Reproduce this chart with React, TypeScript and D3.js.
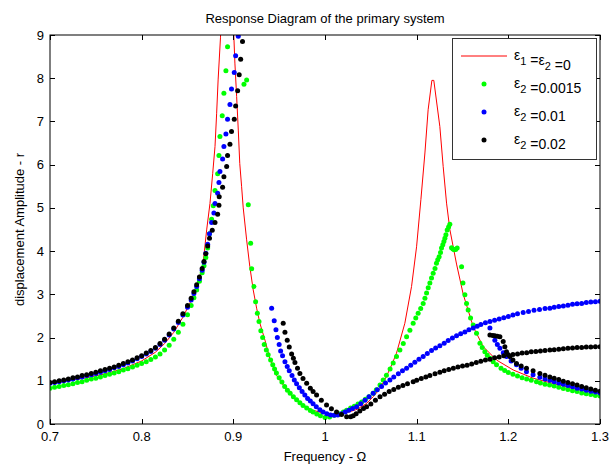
import React, { useEffect, useRef } from 'react';
import * as d3 from 'd3';

type Pt = [number, number];

const xTicks = [0.7, 0.8, 0.9, 1, 1.1, 1.2, 1.3];
const yTicks = [0, 1, 2, 3, 4, 5, 6, 7, 8, 9];

// eps1 = eps2 = 0 (drawn as a line); the first peak runs off the top
const undamped: Pt[] = [
  [0.70, 0.93], [0.72, 1.0], [0.74, 1.07], [0.76, 1.16], [0.78, 1.28], [0.80, 1.46], [0.815, 1.66],
  [0.825, 1.86], [0.835, 2.12], [0.845, 2.47], [0.855, 2.9], [0.862, 3.3], [0.867, 3.72], [0.8709, 4.49],
  [0.8745, 5.1], [0.8775, 5.8], [0.880, 6.42], [0.8818, 7.19], [0.8834, 7.96], [0.886, 8.95], [0.8935, 14],
  [0.9006, 8.95], [0.9017, 8.35], [0.9036, 7.58], [0.9054, 6.8], [0.907, 6.03], [0.909, 5.5], [0.9108, 5.0],
  [0.9145, 4.26], [0.918, 3.64], [0.9217, 3.1], [0.9254, 2.68], [0.929, 2.33], [0.9345, 1.94], [0.94, 1.5],
  [0.947, 1.13], [0.958, 0.79], [0.97, 0.52], [0.985, 0.33], [1.0, 0.24], [1.015, 0.22], [1.025, 0.27],
  [1.035, 0.34], [1.045, 0.47], [1.0526, 0.63], [1.06, 0.82], [1.067, 1.1], [1.073, 1.38], [1.078, 1.64],
  [1.0871, 2.33], [1.0944, 3.18], [1.0999, 4.1], [1.1046, 5.19], [1.109, 6.27], [1.1125, 7.27], [1.1166, 7.95],
  [1.1187, 7.95], [1.1253, 6.88], [1.1289, 5.96], [1.1326, 5.11], [1.1362, 4.5], [1.1435, 3.7], [1.1508, 3.0],
  [1.1617, 2.25], [1.1726, 1.79], [1.1871, 1.48], [1.2053, 1.25], [1.227, 1.06], [1.25, 0.93], [1.275, 0.8],
  [1.30, 0.70],
];

// eps2 = 0.0015
const eps0015: Pt[] = [
  [0.700, 0.83], [0.705, 0.85], [0.710, 0.87], [0.715, 0.89], [0.720, 0.91], [0.725, 0.93], [0.730, 0.96],
  [0.735, 0.98], [0.740, 1.01], [0.745, 1.04], [0.750, 1.06], [0.755, 1.09], [0.760, 1.12], [0.765, 1.15],
  [0.770, 1.18], [0.775, 1.21], [0.780, 1.25], [0.785, 1.28], [0.790, 1.32], [0.795, 1.36], [0.800, 1.40],
  [0.805, 1.44], [0.810, 1.49], [0.815, 1.55], [0.820, 1.62], [0.825, 1.71], [0.830, 1.82], [0.835, 1.96],
  [0.840, 2.12], [0.845, 2.31], [0.850, 2.53], [0.854, 2.74], [0.857, 2.92], [0.860, 3.10], [0.863, 3.30],
  [0.866, 3.50], [0.868, 3.66], [0.870, 3.85], [0.872, 4.07], [0.874, 4.40], [0.8763, 4.74], [0.8781, 5.05],
  [0.880, 5.40], [0.8829, 5.79], [0.8843, 6.21], [0.8854, 6.65], [0.8879, 7.13], [0.8897, 7.65], [0.8919, 8.17],
  [0.8937, 8.73], [0.9116, 7.86], [0.9145, 7.96], [0.9163, 5.07], [0.9189, 4.18], [0.9200, 3.59], [0.9225, 3.18],
  [0.9243, 2.83], [0.9262, 2.56], [0.9280, 2.37], [0.9300, 2.16], [0.9320, 2.00], [0.9337, 1.84], [0.9360, 1.71],
  [0.9380, 1.60], [0.9407, 1.48], [0.9430, 1.37], [0.9450, 1.27], [0.9470, 1.18], [0.9500, 1.07], [0.9530, 0.97],
  [0.9560, 0.87], [0.9590, 0.78], [0.9620, 0.71], [0.9655, 0.63], [0.9690, 0.56], [0.9726, 0.49], [0.9760, 0.43],
  [0.9800, 0.37], [0.9840, 0.31], [0.9870, 0.28], [0.9910, 0.23], [0.9950, 0.19], [1.0000, 0.15], [1.0050, 0.16],
  [1.0100, 0.20], [1.0150, 0.24], [1.0200, 0.28], [1.0236, 0.32], [1.0280, 0.37], [1.0320, 0.41], [1.0360, 0.46],
  [1.0400, 0.51], [1.0440, 0.57], [1.0480, 0.63], [1.0526, 0.71], [1.0560, 0.79], [1.0600, 0.90], [1.0635, 1.02],
  [1.0670, 1.13], [1.0710, 1.27], [1.0744, 1.41], [1.0780, 1.56], [1.0817, 1.71], [1.0854, 1.86], [1.0890, 2.02],
  [1.0926, 2.17], [1.0962, 2.33], [1.0990, 2.45], [1.1016, 2.56], [1.1044, 2.67], [1.1071, 2.79], [1.1090, 2.91],
  [1.1108, 3.03], [1.1126, 3.15], [1.1144, 3.26], [1.1162, 3.38], [1.1180, 3.49], [1.1200, 3.60], [1.1216, 3.72],
  [1.1230, 3.80], [1.1245, 3.87], [1.1260, 3.97], [1.1271, 4.07], [1.1285, 4.15], [1.1297, 4.22], [1.1308, 4.30],
  [1.1319, 4.38], [1.1333, 4.49], [1.1348, 4.56], [1.1362, 4.62], [1.1380, 4.08], [1.1395, 4.05], [1.1410, 4.03],
  [1.1425, 4.04], [1.1442, 4.07], [1.1490, 3.64], [1.1505, 3.26], [1.1526, 2.99], [1.1544, 2.79], [1.1562, 2.64],
  [1.1588, 2.45], [1.1617, 2.29], [1.1653, 2.10], [1.1690, 1.87], [1.1715, 1.77], [1.1744, 1.67], [1.1770, 1.59],
  [1.1799, 1.52], [1.1835, 1.44], [1.1871, 1.37], [1.1920, 1.29], [1.1960, 1.24], [1.2000, 1.19], [1.2050, 1.15],
  [1.2100, 1.11], [1.2150, 1.07], [1.2200, 1.04], [1.2250, 1.01], [1.2307, 0.98], [1.2350, 0.95], [1.2400, 0.92],
  [1.2450, 0.90], [1.2500, 0.88], [1.2550, 0.85], [1.2600, 0.82], [1.2650, 0.80], [1.2700, 0.77], [1.2750, 0.75],
  [1.2800, 0.72], [1.2850, 0.70], [1.2900, 0.68], [1.2950, 0.66], [1.3000, 0.65],
];

// eps2 = 0.01, main branch
const eps001: Pt[] = [
  [0.700, 0.94], [0.705, 0.96], [0.710, 0.98], [0.715, 1.00], [0.720, 1.02], [0.725, 1.04], [0.730, 1.07],
  [0.735, 1.09], [0.740, 1.12], [0.745, 1.14], [0.750, 1.17], [0.755, 1.20], [0.760, 1.23], [0.765, 1.26],
  [0.770, 1.30], [0.775, 1.33], [0.780, 1.37], [0.785, 1.41], [0.790, 1.46], [0.795, 1.51], [0.800, 1.56],
  [0.805, 1.62], [0.810, 1.68], [0.815, 1.75], [0.820, 1.84], [0.825, 1.94], [0.830, 2.06], [0.835, 2.20],
  [0.840, 2.35], [0.845, 2.52], [0.850, 2.70], [0.854, 2.87], [0.857, 3.02], [0.860, 3.18], [0.863, 3.36],
  [0.866, 3.56], [0.868, 3.74], [0.870, 3.95], [0.872, 4.16], [0.874, 4.40], [0.8763, 4.66], [0.8788, 4.88],
  [0.8800, 5.10], [0.8829, 5.34], [0.8843, 5.59], [0.8854, 5.84], [0.8883, 6.13], [0.8897, 6.42], [0.8919, 6.71],
  [0.8937, 7.05], [0.8963, 7.39], [0.8980, 7.75], [0.9010, 8.13], [0.9025, 8.52], [0.9054, 8.97],
  [0.9418, 2.68], [0.9446, 2.39], [0.9465, 2.18], [0.9480, 2.00], [0.9500, 1.84], [0.9516, 1.69], [0.9537, 1.58],
  [0.9563, 1.44], [0.9588, 1.33], [0.9610, 1.23], [0.9640, 1.12], [0.9665, 1.02], [0.9690, 0.93], [0.9720, 0.84],
  [0.9750, 0.75], [0.9780, 0.67], [0.9810, 0.59], [0.9840, 0.53], [0.9870, 0.47], [0.9905, 0.40], [0.9944, 0.33],
  [0.9980, 0.28], [1.0020, 0.24], [1.0060, 0.21], [1.0100, 0.20], [1.0140, 0.21], [1.0180, 0.24], [1.0220, 0.28],
  [1.0260, 0.32], [1.0300, 0.36], [1.0345, 0.40], [1.0390, 0.47], [1.0436, 0.55], [1.0480, 0.63], [1.0526, 0.71],
  [1.0570, 0.79], [1.0617, 0.87], [1.0660, 0.95], [1.0708, 1.02], [1.0750, 1.09], [1.0800, 1.16], [1.0845, 1.23],
  [1.0890, 1.29], [1.0935, 1.36], [1.0980, 1.43], [1.1025, 1.50], [1.1071, 1.56], [1.1116, 1.63], [1.1162, 1.70],
  [1.1207, 1.76], [1.1253, 1.81], [1.1300, 1.87], [1.1344, 1.93], [1.1390, 1.99], [1.1435, 2.04], [1.1480, 2.09],
  [1.1526, 2.13], [1.1570, 2.18], [1.1617, 2.22], [1.1660, 2.26], [1.1700, 2.30], [1.1750, 2.34], [1.1799, 2.37],
  [1.1850, 2.40], [1.1900, 2.43], [1.1950, 2.46], [1.2000, 2.49], [1.2050, 2.52], [1.2100, 2.55], [1.2162, 2.58],
  [1.2220, 2.60], [1.2280, 2.63], [1.2340, 2.65], [1.2400, 2.67], [1.2453, 2.68], [1.2500, 2.70], [1.2550, 2.72],
  [1.2600, 2.73], [1.2650, 2.75], [1.2700, 2.77], [1.2750, 2.78], [1.2800, 2.79], [1.2850, 2.81], [1.2900, 2.82],
  [1.2950, 2.83], [1.3000, 2.84],
];

// eps2 = 0.01, second (lower) branch after the jump
const eps001Lower: Pt[] = [
  [1.1799, 2.22], [1.1853, 1.94], [1.1880, 1.84], [1.1908, 1.75], [1.1945, 1.65], [1.1980, 1.56], [1.2030, 1.46],
  [1.2089, 1.37], [1.2140, 1.29], [1.2198, 1.21], [1.2270, 1.14], [1.2344, 1.08], [1.2400, 1.04], [1.2453, 1.01],
  [1.2500, 0.98], [1.2550, 0.95], [1.2600, 0.92], [1.2650, 0.89], [1.2700, 0.86], [1.2750, 0.83], [1.2800, 0.81],
  [1.2850, 0.78], [1.2900, 0.76], [1.2950, 0.74], [1.3000, 0.72],
];

// eps2 = 0.02, main branch
const eps002: Pt[] = [
  [0.700, 0.96], [0.705, 0.98], [0.710, 1.00], [0.715, 1.02], [0.720, 1.04], [0.725, 1.07], [0.730, 1.09],
  [0.735, 1.12], [0.740, 1.14], [0.745, 1.17], [0.750, 1.20], [0.755, 1.23], [0.760, 1.26], [0.765, 1.29],
  [0.770, 1.32], [0.775, 1.36], [0.780, 1.40], [0.785, 1.44], [0.790, 1.48], [0.795, 1.53], [0.800, 1.58],
  [0.805, 1.64], [0.810, 1.70], [0.815, 1.77], [0.820, 1.86], [0.825, 1.96], [0.830, 2.08], [0.835, 2.22],
  [0.840, 2.38], [0.845, 2.55], [0.850, 2.74], [0.854, 2.91], [0.857, 3.06], [0.860, 3.22], [0.863, 3.40],
  [0.866, 3.60], [0.868, 3.76], [0.870, 3.94], [0.872, 4.12], [0.874, 4.30], [0.877, 4.48], [0.8800, 4.66],
  [0.8829, 4.85], [0.8843, 5.06], [0.8846, 5.26], [0.8883, 5.48], [0.8897, 5.72], [0.8927, 5.96], [0.8937, 6.21],
  [0.8963, 6.47], [0.8980, 6.77], [0.9010, 7.05], [0.9025, 7.36], [0.9047, 7.71], [0.9064, 8.08], [0.9080, 8.44],
  [0.9100, 8.85],
  [0.9544, 2.33], [0.9563, 2.12], [0.9588, 1.94], [0.9610, 1.78], [0.9636, 1.62], [0.9655, 1.52], [0.9672, 1.42],
  [0.9700, 1.29], [0.9726, 1.17], [0.9760, 1.05], [0.9800, 0.94], [0.9840, 0.83], [0.9870, 0.75], [0.9908, 0.67],
  [0.9960, 0.55], [1.0017, 0.44], [1.0070, 0.35], [1.0126, 0.28], [1.0180, 0.22], [1.0236, 0.17], [1.0280, 0.17],
  [1.0308, 0.19], [1.0340, 0.24], [1.0380, 0.30], [1.0420, 0.36], [1.0454, 0.40], [1.0500, 0.46], [1.0550, 0.55],
  [1.0600, 0.63], [1.0650, 0.69], [1.0700, 0.75], [1.0750, 0.80], [1.0800, 0.85], [1.0850, 0.89], [1.0900, 0.93],
  [1.0962, 0.98], [1.1000, 1.01], [1.1050, 1.05], [1.1100, 1.09], [1.1144, 1.12], [1.1200, 1.16], [1.1253, 1.20],
  [1.1300, 1.23], [1.1350, 1.26], [1.1400, 1.29], [1.1450, 1.32], [1.1500, 1.34], [1.1550, 1.36], [1.1600, 1.39],
  [1.1650, 1.42], [1.1700, 1.45], [1.1750, 1.48], [1.1800, 1.50], [1.1850, 1.53], [1.1900, 1.55], [1.1950, 1.58],
  [1.2000, 1.60], [1.2050, 1.61], [1.2100, 1.62], [1.2150, 1.64], [1.2200, 1.65], [1.2250, 1.67], [1.2300, 1.68],
  [1.2350, 1.69], [1.2400, 1.70], [1.2453, 1.71], [1.2500, 1.72], [1.2550, 1.73], [1.2600, 1.74], [1.2650, 1.75],
  [1.2700, 1.76], [1.2750, 1.77], [1.2800, 1.77], [1.2850, 1.78], [1.2900, 1.78], [1.2950, 1.79], [1.3000, 1.79],
];

// eps2 = 0.02, lower branch after the jump
const eps002Lower: Pt[] = [
  [1.1799, 2.06], [1.1830, 2.05], [1.1853, 2.04], [1.1880, 2.03], [1.1908, 2.02], [1.1944, 1.91], [1.1962, 1.79],
  [1.1980, 1.67], [1.2017, 1.56], [1.2050, 1.48], [1.2089, 1.40], [1.2140, 1.34], [1.2198, 1.29], [1.2270, 1.23],
  [1.2344, 1.17], [1.2400, 1.13], [1.2453, 1.09], [1.2500, 1.06], [1.2550, 1.03], [1.2600, 0.99], [1.2650, 0.96],
  [1.2700, 0.93], [1.2750, 0.90], [1.2800, 0.87], [1.2850, 0.84], [1.2900, 0.81], [1.2950, 0.78], [1.3000, 0.76],
];

const dotSeries = [
  { name: 'eps0015', color: '#00ff00', points: eps0015 },
  { name: 'eps001', color: '#0000ff', points: [...eps001, ...eps001Lower] },
  { name: 'eps002', color: '#000000', points: [...eps002, ...eps002Lower] },
];

// legend rows: [main text, subscript] parts
const legendRows = [
  { kind: 'line', color: '#ff0000', parts: [['ε', '1'], [' =ε', '2'], [' =0', '']] },
  { kind: 'dot', color: '#00ff00', parts: [['ε', '2'], [' =0.0015', '']] },
  { kind: 'dot', color: '#0000ff', parts: [['ε', '2'], [' =0.01', '']] },
  { kind: 'dot', color: '#000000', parts: [['ε', '2'], [' =0.02', '']] },
];

const FONT = '"Liberation Sans", Arial, Helvetica, sans-serif';
const DOT_R = 2.5;

const ResponseDiagram = () => {
  const svgRef = useRef<SVGSVGElement>(null);
  const width = 609;
  const height = 466;

  useEffect(() => {
    if (!svgRef.current) return;
    const svg = d3.select(svgRef.current);
    svg.selectAll('*').remove();

    const margin = { top: 35, right: 9, bottom: 42, left: 50 };
    const x = d3.scaleLinear().domain([0.7, 1.3]).range([margin.left, width - margin.right]);
    const y = d3.scaleLinear().domain([0, 9]).range([height - margin.bottom, margin.top]);
    const [x0, x1] = x.range();
    const [y0, y1] = y.range();

    svg.append('rect').attr('width', width).attr('height', height).attr('fill', 'white');

    svg.append('defs').append('clipPath').attr('id', 'plot-clip')
      .append('rect')
      .attr('x', x0).attr('y', y1)
      .attr('width', x1 - x0).attr('height', y0 - y1);

    const plot = svg.append('g').attr('clip-path', 'url(#plot-clip)');

    // red line first (bottom of the stack, as in the source plot order)
    const line = d3.line<Pt>().x(d => x(d[0])).y(d => y(d[1]));
    plot.append('path')
      .datum(undamped)
      .attr('d', line)
      .attr('fill', 'none')
      .attr('stroke', '#ff0000')
      .attr('stroke-width', 1);

    dotSeries.forEach(s => {
      plot.append('g')
        .selectAll('circle')
        .data(s.points)
        .join('circle')
        .attr('cx', d => x(d[0]))
        .attr('cy', d => y(d[1]))
        .attr('r', DOT_R)
        .attr('fill', s.color);
    });

    // box + ticks on all four sides, pointing inward
    const axes = svg.append('g').attr('stroke', '#000').attr('stroke-width', 1);
    axes.append('rect')
      .attr('x', x0).attr('y', y1)
      .attr('width', x1 - x0).attr('height', y0 - y1)
      .attr('fill', 'none');
    const tl = 5;
    xTicks.forEach(t => {
      const px = Math.round(x(t)) + 0.5;
      axes.append('line').attr('x1', px).attr('x2', px).attr('y1', y0).attr('y2', y0 - tl);
      axes.append('line').attr('x1', px).attr('x2', px).attr('y1', y1).attr('y2', y1 + tl);
    });
    yTicks.forEach(t => {
      const py = Math.round(y(t)) + 0.5;
      axes.append('line').attr('x1', x0).attr('x2', x0 + tl).attr('y1', py).attr('y2', py);
      axes.append('line').attr('x1', x1).attr('x2', x1 - tl).attr('y1', py).attr('y2', py);
    });

    const labels = svg.append('g').attr('font-family', FONT).attr('font-size', 13).attr('fill', '#000');
    xTicks.forEach(t => {
      labels.append('text')
        .attr('x', x(t)).attr('y', y0 + 17)
        .attr('text-anchor', 'middle')
        .text(d3.format('~g')(t));
    });
    yTicks.forEach(t => {
      labels.append('text')
        .attr('x', x0 - 6).attr('y', y(t) + 4.5)
        .attr('text-anchor', 'end')
        .text(t);
    });

    labels.append('text')
      .attr('x', (x0 + x1) / 2).attr('y', 23)
      .attr('text-anchor', 'middle')
      .text('Response Diagram of the primary system');
    labels.append('text')
      .attr('x', (x0 + x1) / 2).attr('y', 461)
      .attr('text-anchor', 'middle')
      .text('Frequency - Ω');
    labels.append('text')
      .attr('transform', `translate(24, ${(y0 + y1) / 2}) rotate(-90)`)
      .attr('text-anchor', 'middle')
      .text('displacement Amplitude - r');

    // legend
    const lg = svg.append('g').attr('font-family', FONT);
    lg.append('rect')
      .attr('x', 452.5).attr('y', 38.5)
      .attr('width', 144).attr('height', 121)
      .attr('fill', 'white')
      .attr('stroke', '#333')
      .attr('stroke-width', 1);
    legendRows.forEach((row, i) => {
      const cy = 56 + i * 28;
      if (row.kind === 'line') {
        lg.append('line')
          .attr('x1', 461).attr('x2', 507)
          .attr('y1', cy).attr('y2', cy)
          .attr('stroke', row.color).attr('stroke-width', 1);
      } else {
        lg.append('circle').attr('cx', 484).attr('cy', cy).attr('r', DOT_R).attr('fill', row.color);
      }
      const txt = lg.append('text')
        .attr('x', 514).attr('y', cy + 4)
        .attr('font-size', 14)
        .attr('fill', '#000');
      row.parts.forEach(([main, sub]) => {
        txt.append('tspan').text(main);
        if (sub) {
          txt.append('tspan').attr('dy', 5).attr('font-size', 11).text(sub);
          txt.append('tspan').attr('dy', -5).text('');
        }
      });
    });
  }, []);

  return (
    <svg
      ref={svgRef}
      width={width}
      height={height}
      style={{ position: 'absolute', left: 0, top: 0, display: 'block' }}
    />
  );
};

export default function App() {
  return <ResponseDiagram />;
}
